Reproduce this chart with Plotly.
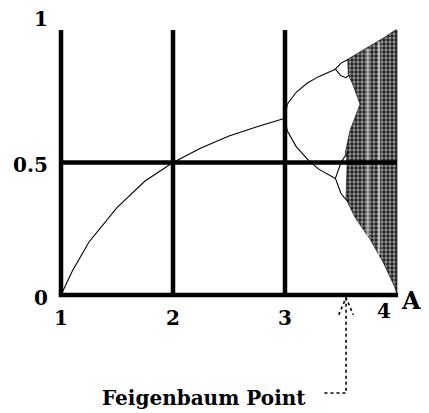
import plotly.graph_objs as go

# Period-1 fixed point branch (A, x)
fixed_a = [1.0, 1.1, 1.25, 1.5, 1.75, 2.0, 2.25, 2.5, 2.75, 3.0]
fixed_x = [0.0, 0.09, 0.2, 0.33, 0.43, 0.5, 0.555, 0.6, 0.635, 0.667]

# Period-2 branches
p2_up_a = [3.0, 3.02, 3.1, 3.2, 3.3, 3.4, 3.45]
p2_up_x = [0.667, 0.72, 0.765, 0.8, 0.824, 0.842, 0.852]
p2_lo_a = [3.0, 3.02, 3.1, 3.2, 3.3, 3.4, 3.45]
p2_lo_x = [0.667, 0.62, 0.56, 0.513, 0.475, 0.452, 0.44]

# Period-4 branches
p4_a = [3.45, 3.5, 3.545, 3.57]
p4_x1 = [0.852, 0.875, 0.885, 0.89]
p4_x2 = [0.852, 0.827, 0.82, 0.83]
p4_x3 = [0.44, 0.5, 0.53, 0.54]
p4_x4 = [0.44, 0.383, 0.36, 0.35]

# Outline of the chaotic band
chaos_a = [3.56, 3.6, 3.7, 3.8, 3.9, 3.985, 4.0, 4.0, 3.98, 3.88, 3.76, 3.63,
           3.57, 3.545, 3.55, 3.555, 3.54, 3.58, 3.67, 3.6, 3.565, 3.56]
chaos_x = [0.89, 0.9, 0.925, 0.95, 0.975, 1.0, 1.0, 0.0, 0.03, 0.12, 0.21, 0.29,
           0.34, 0.37, 0.45, 0.5, 0.54, 0.62, 0.72, 0.8, 0.83, 0.89]

# Periodic windows (lighter stripes) : A, low x, high x
window_a = [3.74, 3.84]
window_lo = [0.22, 0.15]
window_hi = [0.93, 0.955]

A_TICKS = [1, 2, 3, 4]
Y_TICKS = [0, 0.5, 1]
FEIG_A = 3.545

FONT = "DejaVu Serif"
BLACK = "black"

fig = go.Figure()

# chaotic region
fig.add_trace(go.Scatter(x=chaos_a, y=chaos_x, mode="lines", fill="toself",
                         line=dict(color="rgba(0,0,0,0.6)", width=1),
                         fillcolor="black",
                         fillpattern=dict(shape=".", fgcolor="white", bgcolor="#1a1a1a",
                                          size=4, solidity=0.55)))
for a, lo, hi in zip(window_a, window_lo, window_hi):
    fig.add_trace(go.Scatter(x=[a, a], y=[lo, hi], mode="lines",
                             line=dict(color="rgba(255,255,255,0.6)", width=2)))

# branches
for xs, ys in [(fixed_a, fixed_x), (p2_up_a, p2_up_x), (p2_lo_a, p2_lo_x),
               (p4_a, p4_x1), (p4_a, p4_x2), (p4_a, p4_x3), (p4_a, p4_x4)]:
    fig.add_trace(go.Scatter(x=xs, y=ys, mode="lines", line=dict(color=BLACK, width=1.1)))

# frame lines
for a in A_TICKS[:3]:
    fig.add_trace(go.Scatter(x=[a, a], y=[0, 1], mode="lines", line=dict(color=BLACK, width=4.5)))
fig.add_trace(go.Scatter(x=[1, 4], y=[0.5, 0.5], mode="lines", line=dict(color=BLACK, width=4.5)))
fig.add_trace(go.Scatter(x=[0.98, 4.01], y=[0, 0], mode="lines", line=dict(color=BLACK, width=4.5)))

# Feigenbaum pointer (dotted)
dot = dict(color=BLACK, width=1.6, dash="dot")
fig.add_trace(go.Scatter(x=[FEIG_A, FEIG_A, 3.33], y=[-0.01, -0.37, -0.37], mode="lines", line=dot))
fig.add_trace(go.Scatter(x=[3.48, FEIG_A, 3.61], y=[-0.075, -0.01, -0.075], mode="lines", line=dot))

fnt = dict(family=FONT, size=20, color=BLACK)
ann = []
for a, dy in zip(A_TICKS, [-0.085, -0.085, -0.085, -0.06]):
    ann.append(dict(x=a - (0.12 if a == 4 else 0), y=dy, text="<b>%d</b>" % a, showarrow=False, font=fnt))
for v, lab in zip(Y_TICKS, ["0", "0.5", "1"]):
    ann.append(dict(x=0.9, y=v + (0.04 if v == 1 else -0.01), text="<b>%s</b>" % lab, showarrow=False,
                    font=fnt, xanchor="right"))
ann.append(dict(x=4.03, y=-0.02, text="<b>A</b>", showarrow=False, xanchor="left", borderpad=0,
                font=dict(family=FONT, size=24, color=BLACK)))
ann.append(dict(x=2.28, y=-0.39, text="<b>Feigenbaum Point</b>", showarrow=False, font=fnt))

# page body adds an 8px margin, so the figure is 8px smaller than the window
fig.update_layout(
    width=421, height=405, autosize=False,
    margin=dict(l=0, r=0, t=0, b=0),
    paper_bgcolor="white", plot_bgcolor="white",
    showlegend=False, annotations=ann,
    xaxis=dict(range=[0.5268, 4.2857], visible=False),
    yaxis=dict(range=[-0.4453, 1.083], visible=False),
)

fig.write_html("out.html")
